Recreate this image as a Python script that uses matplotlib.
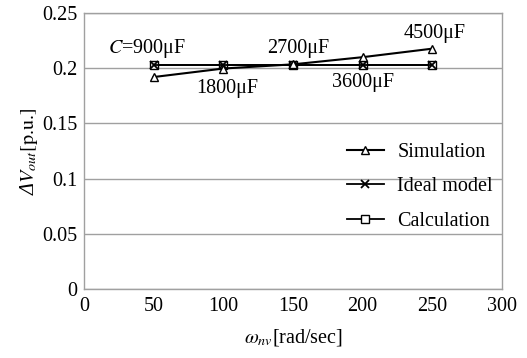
import matplotlib
matplotlib.use('Agg')
import matplotlib.pyplot as plt

plt.rcParams['font.family'] = ['Liberation Serif', 'DejaVu Serif']
plt.rcParams['mathtext.fontset'] = 'stix'

w = [50, 100, 150, 200, 250]  # omega_nv [rad/sec]
sim = [0.192, 0.1997, 0.2035, 0.210, 0.2177]
ideal = [0.2025, 0.2025, 0.2025, 0.2025, 0.2025]
calc = [0.2025, 0.2025, 0.2025, 0.2025, 0.2025]
cap_labels = [r'$C$=900μF', '1800μF', '2700μF', '3600μF', '4500μF']
cap_pos = [(45, 0.218), (103, 0.182), (154, 0.218), (200, 0.1875), (252, 0.231)]

fs = 14.5
fig = plt.figure(figsize=(5.27, 3.58), dpi=100)
ax = fig.add_axes([84/527, 1-289/358, 418/527, 276/358])

ax.plot(w, calc, color='black', lw=1.3, marker='s', ms=5.5, mfc='white', mec='black', label='Calculation', zorder=3)
ax.plot(w, ideal, color='black', lw=1.3, marker='x', ms=6, mew=1.3, label='Ideal model', zorder=4)
ax.plot(w, sim, color='black', lw=1.5, marker='^', ms=5.5, mfc='white', mec='black', label='Simulation', zorder=5)

for txt, (x, y) in zip(cap_labels, cap_pos):
    ax.text(x, y, txt, ha='center', va='center', fontsize=fs)

ax.set_xlim(0, 300)
ax.set_ylim(0, 0.25)
ax.set_xticks([0, 50, 100, 150, 200, 250, 300])
ax.set_yticks([0, 0.05, 0.1, 0.15, 0.2, 0.25])
ax.set_yticklabels(['0', '0.05', '0.1', '0.15', '0.2', '0.25'])
ax.tick_params(length=0, labelsize=fs)
ax.tick_params(axis='y', pad=5)
ax.tick_params(axis='x', pad=6)
ax.yaxis.grid(True, color='#a0a0a0', lw=1)
ax.set_axisbelow(True)
for s in ax.spines.values():
    s.set_color('#a0a0a0')
    s.set_linewidth(1)

ax.set_xlabel(r'$\omega_{nv}$[rad/sec]', fontsize=fs, labelpad=8)
ax.set_ylabel(r'Δ$V_{out}\text{[p.u.]}$', fontsize=fs, style='italic', labelpad=1)

h, l = ax.get_legend_handles_labels()
order = [2, 1, 0]
ax.legend([h[i] for i in order], [l[i] for i in order], frameon=False,
          loc='center right', bbox_to_anchor=(0.978, 0.37), borderpad=0,
          borderaxespad=0, fontsize=fs, handlelength=1.85, labelspacing=0.75,
          handletextpad=0.65)

fig.savefig('out.png', dpi=100)
